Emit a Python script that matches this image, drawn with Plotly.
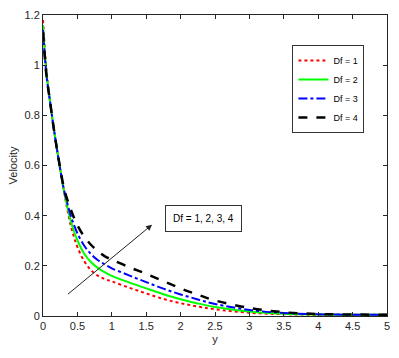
import plotly.graph_objects as go

# velocity profiles
y_pos = [0, 0.05, 0.1, 0.15, 0.2, 0.25, 0.3, 0.35, 0.4, 0.45, 0.5, 0.6, 0.7, 0.8, 0.9, 1.0,
         1.25, 1.5, 1.75, 2.0, 2.25, 2.5, 3.0, 3.5, 4.0, 4.5, 5.0]
vel_df1 = [1.18, 0.98, 0.86, 0.76, 0.67, 0.585, 0.505, 0.43, 0.365, 0.315, 0.275, 0.218, 0.182,
           0.16, 0.147, 0.138, 0.113, 0.09, 0.068, 0.051, 0.038, 0.027, 0.013, 0.007, 0.005,
           0.005, 0.005]
vel_df2 = [1.16, 0.97, 0.86, 0.76, 0.67, 0.585, 0.505, 0.44, 0.383, 0.338, 0.302, 0.248, 0.214,
           0.191, 0.174, 0.16, 0.134, 0.11, 0.087, 0.067, 0.05, 0.036, 0.018, 0.009, 0.006,
           0.005, 0.005]
vel_df3 = [1.14, 0.96, 0.86, 0.76, 0.67, 0.585, 0.51, 0.453, 0.403, 0.363, 0.33, 0.28, 0.246,
           0.222, 0.205, 0.19, 0.162, 0.135, 0.109, 0.086, 0.066, 0.048, 0.024, 0.012, 0.007,
           0.005, 0.005]
vel_df4 = [1.13, 0.96, 0.86, 0.76, 0.67, 0.59, 0.515, 0.467, 0.427, 0.392, 0.362, 0.316, 0.283,
           0.258, 0.238, 0.225, 0.195, 0.168, 0.139, 0.11, 0.085, 0.062, 0.032, 0.015, 0.008,
           0.006, 0.005]
names = ["Df = 1", "Df = 2", "Df = 3", "Df = 4"]

FONT = "Liberation Sans, Arial, sans-serif"
AX = "#262626"

fig = go.Figure()
styles = [("#ff0000", "dot", 2), ("#00ff00", "solid", 2), ("#0000ff", "dashdot", 2), ("#000000", "dash", 2.5)]
for vals, name, (col, dash, w) in zip([vel_df1, vel_df2, vel_df3, vel_df4], names, styles):
    fig.add_trace(go.Scatter(x=y_pos, y=vals, mode="lines", name=name, line_shape="spline",
                             line=dict(color=col, dash=dash, width=w)))

fig.add_annotation(x=2.327, y=0.388, text="Df = 1, 2, 3, 4", showarrow=False,
                   font=dict(family=FONT, size=10, color="#000"),
                   bordercolor="#333", borderwidth=1, borderpad=7, bgcolor="white")
fig.add_annotation(x=1.585, y=0.364, ax=0.34, ay=0.082, axref="x", ayref="y",
                   text="", showarrow=True, arrowhead=2, arrowsize=1.2, arrowwidth=1, arrowcolor="#222")

axis = dict(showline=True, linecolor=AX, linewidth=1, mirror="ticks", ticks="inside", ticklen=4,
            tickcolor=AX, showgrid=False, zeroline=False,
            tickfont=dict(family=FONT, size=11, color=AX))
fig.update_xaxes(range=[0, 5], dtick=0.5, title=dict(text="y", standoff=4,
                 font=dict(family=FONT, size=11, color=AX)), **axis)
fig.update_yaxes(range=[0, 1.2], dtick=0.2, title=dict(text="Velocity", standoff=4,
                 font=dict(family=FONT, size=11, color=AX)), **axis)

fig.update_layout(width=399, height=358, margin=dict(l=43, r=9, t=10, b=42),
                  plot_bgcolor="white", paper_bgcolor="white",
                  legend=dict(x=0.725, y=0.9, xanchor="left", yanchor="top",
                              bordercolor="#333", borderwidth=1, bgcolor="white",
                              font=dict(family=FONT, size=9, color="#000"),
                              tracegroupgap=0, itemwidth=30),
                  font=dict(family=FONT))

# drop the default body margin so the figure sits at the page origin
fig.write_html("out.html", config={"displayModeBar": False},
               post_script="document.body.style.margin='0';")
